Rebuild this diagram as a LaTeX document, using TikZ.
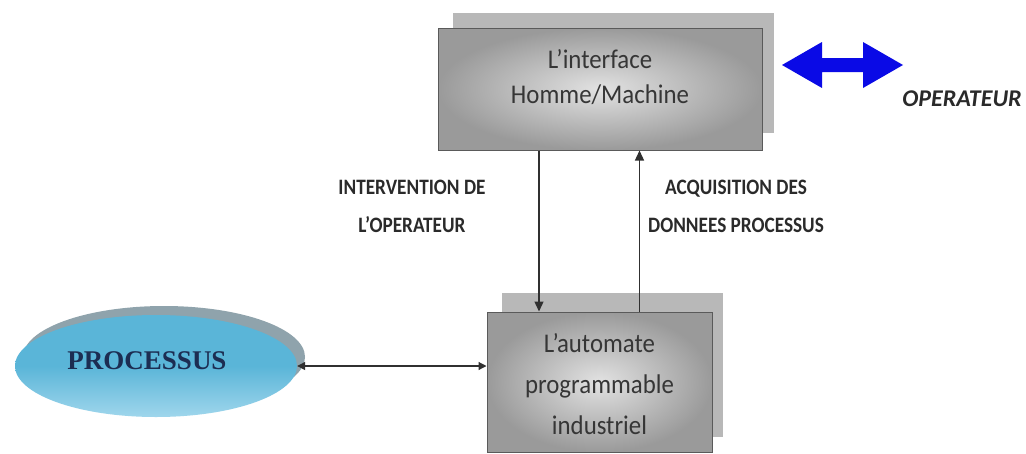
\documentclass[tikz,border=0pt]{standalone}
\usepackage{fontspec}
\setmainfont{Carlito}
\newfontfamily\procfont{Liberation Serif}
\newfontfamily\boxfont[FakeStretch=0.92]{Carlito}
\newfontfamily\lblfont[FakeStretch=0.875]{Carlito}
\usetikzlibrary{arrows.meta,shapes.geometric}
\definecolor{boxback}{HTML}{B8B8B8}
\definecolor{boxedge}{HTML}{5A5A5A}
\definecolor{boxin}{HTML}{E2E2E2}
\definecolor{boxout}{HTML}{9A9A9A}
\definecolor{txtgray}{HTML}{363636}
\definecolor{lblgray}{HTML}{2A2A2A}
\definecolor{procblue}{HTML}{5AB5D8}
\definecolor{proclight}{HTML}{9FD6EC}
\definecolor{procshadow}{HTML}{8FA3AC}
\definecolor{procnavy}{HTML}{1C2D52}
\definecolor{linkgray}{HTML}{303030}
\definecolor{opblue}{HTML}{0A0AE6}
\tikzset{
  backbox/.style={draw=none, fill=boxback, inner sep=0pt},
  frontbox/.style={draw=boxedge, line width=1pt, inner color=boxin, outer color=boxout, inner sep=0pt},
  boxtext/.style={text=txtgray, align=center},
  lbl/.style={text=lblgray, align=center, font=\lblfont\bfseries\fontsize{22}{38}\selectfont},
  link/.style={draw=linkgray, line width=1.3pt, -{Triangle[length=10pt,width=9pt]}},
  hlink/.style={draw=linkgray, line width=1.2pt, {Triangle[length=8pt,width=8pt]}-{Triangle[length=8pt,width=8pt]}},
}
\begin{document}
\begin{tikzpicture}[x=1pt,y=-1pt]
\useasboundingbox (0,0) rectangle (1026,453);
\fill[white] (0,0) rectangle (1026,453);
% HMI box
\node[backbox, minimum width=321pt, minimum height=120pt] (hmiback) at (613.5,73) {};
\node[frontbox, minimum width=324pt, minimum height=122pt] (hmi) at (600,89) {};
\node[boxtext, font=\boxfont\fontsize{27}{35}\selectfont] (hmitext) at (600,77) {L’interface\\Homme/Machine};
% automate box
\node[backbox, minimum width=221pt, minimum height=144pt] (autoback) at (612.5,365) {};
\node[frontbox, minimum width=225pt, minimum height=140pt] (auto) at (599.5,382) {};
\node[boxtext, font=\boxfont\fontsize{27}{41}\selectfont] (autotext) at (599.5,384) {L’automate\\programmable\\industriel};
% processus ellipse
\node[ellipse, fill=procshadow, minimum width=282pt, minimum height=102pt] (procshad) at (164,357) {};
\node[ellipse, top color=procblue, bottom color=proclight, middle color=procblue, minimum width=282pt, minimum height=102pt, inner sep=0pt] (proc) at (156,366) {};
\node[text=procnavy, font=\procfont\bfseries\fontsize{27}{30}\selectfont] (proctext) at (147,361) {PROCESSUS};
% connectors
\draw[link] ([xshift=-61pt]hmi.south) -- ([xshift=-61pt]hmi.south |- auto.north);
\draw[link] ([xshift=40pt]auto.north) -- ([xshift=40pt]auto.north |- hmi.south);
\draw[hlink] (proc.east) -- (proc.east -| auto.west);
% labels
\node[lbl] (lint) at (412,206) {INTERVENTION DE\\L’OPERATEUR};
\node[lbl] (lacq) at (736,206) {ACQUISITION DES\\DONNEES PROCESSUS};
% operator arrow
\fill[opblue] (782,65) -- (822,42) -- (822,58) -- (863,58) -- (863,42) -- (903,65)
  -- (863,88) -- (863,72) -- (822,72) -- (822,88) -- cycle;
\node[text=lblgray, font=\bfseries\itshape\fontsize{24}{26}\selectfont] (optext) at (962,99) {OPERATEUR};
\end{tikzpicture}
\end{document}
